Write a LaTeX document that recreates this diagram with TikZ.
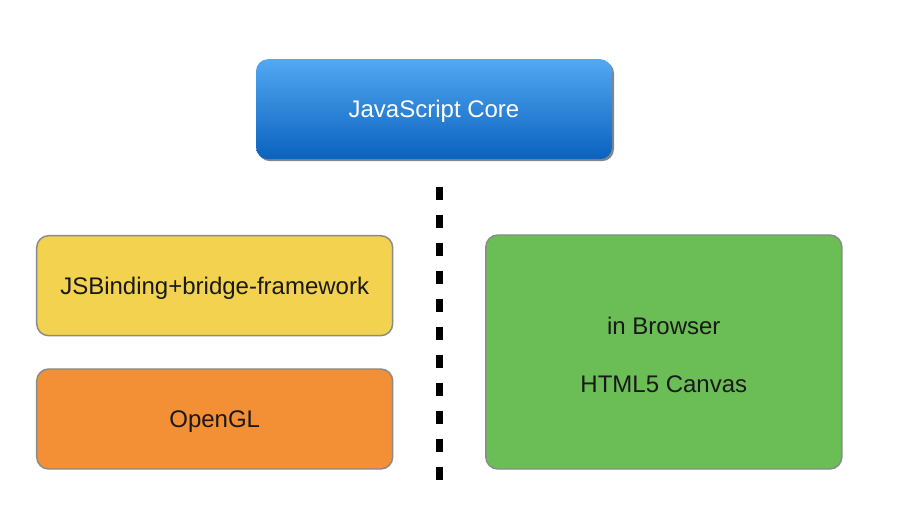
\documentclass[tikz,border=0pt]{standalone}
\usepackage{fontspec}
\setmainfont{Liberation Sans}
\usetikzlibrary{shadows}
\definecolor{coretop}{RGB}{82,168,242}
\definecolor{corebot}{RGB}{10,98,190}
\definecolor{bindfill}{RGB}{243,210,80}
\definecolor{glfill}{RGB}{243,143,53}
\definecolor{webfill}{RGB}{106,190,85}
\definecolor{edgegray}{RGB}{138,138,138}
\definecolor{txt}{RGB}{25,25,25}

\begin{document}
\begin{tikzpicture}[x=0.75pt, y=-0.75pt,
    layer/.style={rectangle, rounded corners=9pt, draw=edgegray, line width=1.1pt,
      minimum width=267pt, minimum height=75pt, align=center, text=txt,
      text height=16.5pt, text depth=3.3pt, font=\fontsize{18}{22}\selectfont},
    corebox/.style={layer, draw=none, top color=coretop, bottom color=corebot, text=white,
      drop shadow={shadow xshift=1.5pt, shadow yshift=-1.5pt, opacity=0.6, fill=black!80}},
    sep/.style={line width=5.25pt, dash pattern=on 10pt off 11pt}]
      \useasboundingbox (0,0) rectangle (899,509);
      \node[corebox] (core) at (434,109.2) {JavaScript Core};
      \node[layer, fill=bindfill] (bind) at (214.7,285.7) {JSBinding+bridge-framework};
      \node[layer, fill=glfill] (gl) at (214.7,419) {OpenGL};
      \node[layer, fill=webfill, minimum height=175.5pt, text height=60.3pt, text depth=0pt] (web) at (663.8,352) {in Browser\\[21.5pt]HTML5 Canvas};

      \coordinate (septop) at (439.5,186.7);
      \coordinate (sepbot) at (439.5,480);
      \draw[sep] (septop) -- (sepbot);
    \end{tikzpicture}
\end{document}
